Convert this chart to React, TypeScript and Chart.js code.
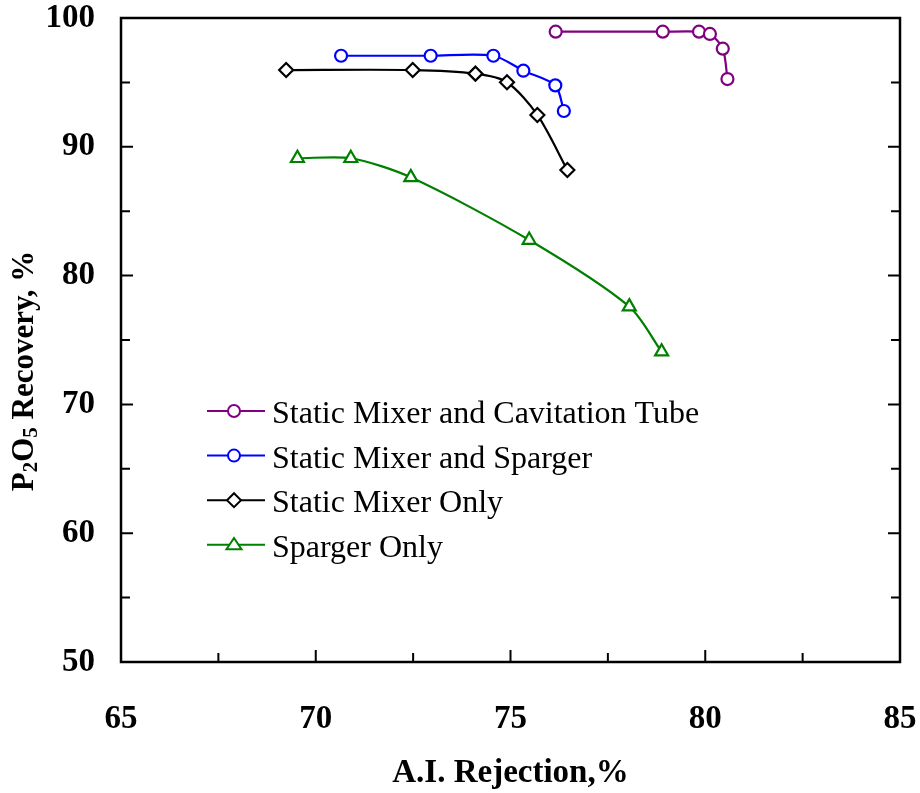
import React, { useEffect, useRef } from "react";
import { Chart, registerables } from "chart.js";

Chart.register(...registerables);

// A.I. rejection (%) and P2O5 recovery (%) for each flotation setup
const cavitationX = [76.16, 78.91, 79.84, 80.12, 80.45, 80.57];
const cavitationY = [98.94, 98.94, 98.94, 98.76, 97.62, 95.26];

const spargerMixX = [70.65, 72.95, 74.56, 75.33, 76.15, 76.37];
const spargerMixY = [97.07, 97.07, 97.07, 95.91, 94.77, 92.78];

const mixerOnlyX = [69.24, 72.49, 74.1, 74.91, 75.69, 76.46];
const mixerOnlyY = [95.96, 95.96, 95.68, 95.01, 92.47, 88.2];

const spargerOnlyX = [69.53, 70.9, 72.44, 75.48, 78.05, 78.88];
const spargerOnlyY = [89.11, 89.11, 87.63, 82.76, 77.59, 74.09];

const seriesNames = [
  "Static Mixer and Cavitation Tube",
  "Static Mixer and Sparger",
  "Static Mixer Only",
  "Sparger Only",
];

const xTitle = "A.I. Rejection,%";

const SERIF = "'Liberation Serif', 'Times New Roman', serif";

const toPoints = (xs: number[], ys: number[]) => xs.map((x, i) => ({ x, y: ys[i] }));

function drawMarker(ctx: CanvasRenderingContext2D, style: string, x: number, y: number, r: number, color: string) {
  ctx.save();
  ctx.strokeStyle = color;
  ctx.fillStyle = "#ffffff";
  ctx.lineWidth = 2;
  ctx.beginPath();
  if (style === "circle") {
    ctx.arc(x, y, r, 0, Math.PI * 2);
  } else if (style === "rectRot") {
    ctx.moveTo(x, y - r);
    ctx.lineTo(x + r, y);
    ctx.lineTo(x, y + r);
    ctx.lineTo(x - r, y);
    ctx.closePath();
  } else {
    const h = r * 1.5;
    ctx.moveTo(x, y - h * 0.6);
    ctx.lineTo(x + r, y + h * 0.4);
    ctx.lineTo(x - r, y + h * 0.4);
    ctx.closePath();
  }
  ctx.fill();
  ctx.stroke();
  ctx.restore();
}

// Frame, inward tick marks, axis titles and the in-plot legend
const framePlugin = {
  id: "frame",
  afterDraw(chart: any) {
    const { ctx, chartArea: a, scales } = chart;
    const xs = scales.x;
    const ys = scales.y;
    ctx.save();
    ctx.strokeStyle = "#000";
    ctx.lineWidth = 2.5;
    ctx.strokeRect(a.left, a.top, a.right - a.left, a.bottom - a.top);

    ctx.lineWidth = 2;
    ctx.beginPath();
    xs.ticks.forEach((t: any) => {
      const px = xs.getPixelForValue(t.value);
      const len = t.value % 5 === 0 ? 12 : 9;
      ctx.moveTo(px, a.bottom);
      ctx.lineTo(px, a.bottom - len);
    });
    ys.ticks.forEach((t: any) => {
      const py = ys.getPixelForValue(t.value);
      const len = t.value % 10 === 0 ? 12 : 9;
      ctx.moveTo(a.left, py);
      ctx.lineTo(a.left + len, py);
      ctx.moveTo(a.right, py);
      ctx.lineTo(a.right - len, py);
    });
    ctx.stroke();

    // x-axis title
    ctx.fillStyle = "#000";
    ctx.font = `bold 33px ${SERIF}`;
    ctx.textAlign = "center";
    ctx.textBaseline = "alphabetic";
    ctx.fillText(xTitle, (a.left + a.right) / 2, 782);

    // y-axis title with subscripts, rotated
    const parts: [string, boolean][] = [
      ["P", false],
      ["2", true],
      ["O", false],
      ["5", true],
      [" Recovery, %", false],
    ];
    const big = `bold 31px ${SERIF}`;
    const small = `bold 21px ${SERIF}`;
    let total = 0;
    parts.forEach(([s, sub]) => {
      ctx.font = sub ? small : big;
      total += ctx.measureText(s).width;
    });
    ctx.translate(33, 371);
    ctx.rotate(-Math.PI / 2);
    ctx.textAlign = "left";
    let cx = -total / 2;
    parts.forEach(([s, sub]) => {
      ctx.font = sub ? small : big;
      ctx.fillText(s, cx, sub ? 4 : 0);
      cx += ctx.measureText(s).width;
    });
    ctx.setTransform(1, 0, 0, 1, 0, 0);

    // legend
    ctx.font = `32px ${SERIF}`;
    ctx.textAlign = "left";
    ctx.textBaseline = "alphabetic";
    chart.data.datasets.forEach((ds: any, i: number) => {
      const ly = 411 + i * 44.6;
      ctx.strokeStyle = ds.borderColor;
      ctx.lineWidth = 2;
      ctx.beginPath();
      ctx.moveTo(207, ly);
      ctx.lineTo(265, ly);
      ctx.stroke();
      drawMarker(ctx, ds.pointStyle, 234, ly, ds.pointRadius, ds.borderColor);
      ctx.fillStyle = "#000";
      ctx.fillText(ds.label, 272, ly + 12);
    });
    ctx.restore();
  },
};

const noMargins = (s: any) => {
  s.paddingLeft = 0;
  s.paddingRight = 0;
  s.paddingTop = 0;
  s.paddingBottom = 0;
};

export default function App() {
  const canvasRef = useRef<HTMLCanvasElement | null>(null);

  useEffect(() => {
    document.body.style.margin = "0";
    const canvas = canvasRef.current;
    if (!canvas) return;

    const mk = (i: number, xs: number[], ys: number[], color: string, style: string, r: number) => ({
      label: seriesNames[i],
      data: toPoints(xs, ys),
      borderColor: color,
      backgroundColor: "#ffffff",
      borderWidth: 2.2,
      pointStyle: style,
      pointRadius: r,
      pointBorderWidth: 2.2,
      pointBackgroundColor: "#ffffff",
      pointBorderColor: color,
      tension: 0.28,
      showLine: true,
      clip: false as any,
    });

    const chart = new Chart(canvas, {
      type: "scatter",
      data: {
        datasets: [
          mk(0, cavitationX, cavitationY, "#800080", "circle", 6),
          mk(1, spargerMixX, spargerMixY, "#0000ff", "circle", 6),
          mk(2, mixerOnlyX, mixerOnlyY, "#000000", "rectRot", 7),
          mk(3, spargerOnlyX, spargerOnlyY, "#008000", "triangle", 7.5),
        ],
      },
      options: {
        animation: false,
        responsive: false,
        devicePixelRatio: 1,
        layout: { padding: { top: 18, right: 20, left: 0, bottom: 0 } },
        plugins: {
          legend: { display: false },
          tooltip: { enabled: false },
        },
        scales: {
          x: {
            type: "linear",
            min: 65,
            max: 85,
            grid: { display: false },
            border: { display: false },
            ticks: {
              stepSize: 2.5,
              autoSkip: false,
              maxRotation: 0,
              padding: 30,
              color: "#000",
              font: { family: SERIF, size: 33, weight: "bold" },
              callback: (v: any) => (Number(v) % 5 === 0 ? String(v) : ""),
            },
            afterFit: (s: any) => {
              s.height = 131;
              noMargins(s);
            },
          },
          y: {
            type: "linear",
            min: 50,
            max: 100,
            grid: { display: false },
            border: { display: false },
            ticks: {
              stepSize: 5,
              autoSkip: false,
              padding: 18,
              color: "#000",
              font: { family: SERIF, size: 33, weight: "bold" },
              callback: (v: any) => (Number(v) % 10 === 0 ? String(v) : ""),
            },
            afterFit: (s: any) => {
              s.width = 121;
              noMargins(s);
            },
          },
        },
      } as any,
      plugins: [framePlugin],
    });

    return () => chart.destroy();
  }, []);

  return (
    <div style={{ width: 920, height: 793 }}>
      <canvas ref={canvasRef} width={920} height={793} style={{ display: "block" }} />
    </div>
  );
}
